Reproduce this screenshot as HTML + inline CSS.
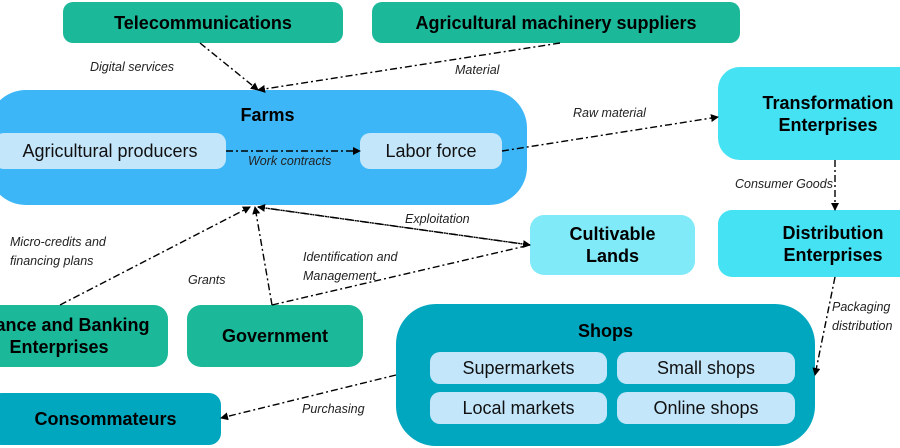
<!DOCTYPE html>
<html><head><style>
body{margin:0;width:900px;height:448px;overflow:hidden;background:#fff;font-family:"Liberation Sans",sans-serif;position:relative}
.b{position:absolute;display:flex;align-items:center;justify-content:center;text-align:center;font-weight:bold;font-size:18px;color:#000;box-sizing:border-box;line-height:22px}
.i{position:absolute;background:#c4e6fb;border-radius:10px;display:flex;align-items:center;justify-content:center;font-size:18px;color:#111}
.l{position:absolute;font-style:italic;font-size:12.5px;color:#222;line-height:19px}
svg{position:absolute;left:0;top:0}
</style></head><body>
<div class="b" style="left:63px;top:2px;width:280px;height:41px;background:#1bb99a;border-radius:10px">Telecommunications</div>
<div class="b" style="left:372px;top:2px;width:368px;height:41px;background:#1bb99a;border-radius:10px">Agricultural machinery suppliers</div>
<div class="b" style="left:-12px;top:90px;width:539px;height:115px;background:#3db6f7;border-radius:38px;align-items:flex-start;padding-top:14px;padding-left:20px">Farms</div>
<div class="i" style="left:-6px;top:133px;width:232px;height:36px">Agricultural producers</div>
<div class="i" style="left:360px;top:133px;width:142px;height:36px">Labor force</div>
<div class="b" style="left:718px;top:67px;width:220px;height:93px;background:#44e2f3;border-radius:22px;white-space:nowrap">Transformation<br>Enterprises</div>
<div class="b" style="left:718px;top:210px;width:230px;height:67px;background:#44e2f3;border-radius:14px">Distribution<br>Enterprises</div>
<div class="b" style="left:530px;top:215px;width:165px;height:60px;background:#80eaf8;border-radius:14px">Cultivable<br>Lands</div>
<div class="b" style="left:-50px;top:305px;width:218px;height:62px;background:#1bb99a;border-radius:14px;white-space:nowrap">Finance and Banking<br>Enterprises</div>
<div class="b" style="left:187px;top:305px;width:176px;height:62px;background:#1bb99a;border-radius:14px">Government</div>
<div class="b" style="left:396px;top:304px;width:419px;height:142px;background:#00a7bf;border-radius:40px;align-items:flex-start;padding-top:16px">Shops</div>
<div class="i" style="left:430px;top:352px;width:177px;height:32px">Supermarkets</div>
<div class="i" style="left:617px;top:352px;width:178px;height:32px">Small shops</div>
<div class="i" style="left:430px;top:392px;width:177px;height:32px">Local markets</div>
<div class="i" style="left:617px;top:392px;width:178px;height:32px">Online shops</div>
<div class="b" style="left:-10px;top:393px;width:231px;height:52px;background:#00a7bf;border-radius:12px">Consommateurs</div>
<svg width="900" height="448">
<defs><marker id="a" markerWidth="8" markerHeight="8" refX="7" refY="4" orient="auto" markerUnits="userSpaceOnUse"><path d="M0,0 L8,4 L0,8z" fill="#000"/></marker></defs>
<g stroke="#000" stroke-width="1.4" fill="none" stroke-dasharray="7,3,2,3" marker-end="url(#a)">
<path d="M200,43 L258,90"/>
<path d="M560,43 L258,90"/>
<path d="M226,151 L360,151"/>
<path d="M502,151 L718,117"/>
<path d="M835,160 L835,210"/>
<path d="M835,277 L815,375"/>
<path d="M396,375 L221,418"/>
<path d="M258,207 L530,245"/>
<path d="M530,245 L258,207"/>
<path d="M272,305 L255,207"/>
<path d="M272,305 L530,245" marker-end="none"/>
<path d="M60,305 L250,207"/>
</g>
</svg>
<div class="l" style="left:90px;top:58px">Digital services</div>
<div class="l" style="left:455px;top:61px">Material</div>
<div class="l" style="left:248px;top:152px">Work contracts</div>
<div class="l" style="left:573px;top:104px">Raw material</div>
<div class="l" style="left:735px;top:175px">Consumer Goods</div>
<div class="l" style="left:832px;top:298px">Packaging<br>distribution</div>
<div class="l" style="left:302px;top:400px">Purchasing</div>
<div class="l" style="left:405px;top:210px">Exploitation</div>
<div class="l" style="left:303px;top:248px">Identification and<br>Management</div>
<div class="l" style="left:188px;top:271px">Grants</div>
<div class="l" style="left:10px;top:233px">Micro-credits and<br>financing plans</div>
</body></html>
